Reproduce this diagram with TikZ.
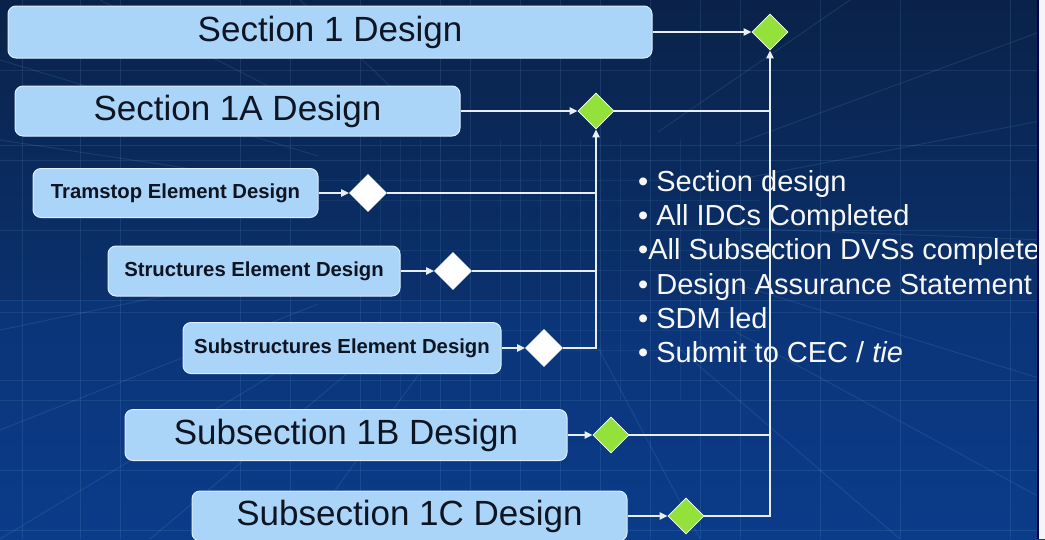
\documentclass[tikz,border=0pt]{standalone}
\usepackage{fontspec}
\setmainfont{Liberation Sans}
\usetikzlibrary{shapes.geometric,arrows.meta,calc}
\definecolor{boxfill}{HTML}{AAD4F8}
\definecolor{boxline}{HTML}{DCEEFF}
\definecolor{boxtext}{HTML}{0E1522}
\definecolor{gdia}{HTML}{93E13B}
\definecolor{conn}{HTML}{E8EEF5}
\definecolor{bgtop}{HTML}{0A2249}
\definecolor{bgmid}{HTML}{071733}
\definecolor{bgbot}{HTML}{0B3C8A}
\definecolor{gridc}{HTML}{7FC8E8}
\tikzset{
  dbox/.style={rectangle, rounded corners=8pt, fill=boxfill, draw=boxline, line width=1pt, inner sep=0pt, text=boxtext},
  bigtxt/.style={font=\fontsize{35}{40}\selectfont},
  smalltxt/.style={font=\bfseries\fontsize{20.3}{23}\selectfont},
  gdiam/.style={diamond, aspect=1, minimum width=36pt, minimum height=36pt, inner sep=0pt, fill=gdia, draw=white, line width=0.8pt},
  wdiam/.style={diamond, aspect=1, minimum width=37pt, minimum height=37pt, inner sep=0pt, fill=white, draw=white, line width=0.8pt},
  link/.style={draw=conn, line width=2pt},
  arr/.style={link, -{Triangle[length=8pt,width=7pt]}},
  bullet/.style={anchor=base west, inner sep=0pt, text=white!94!gray, font=\fontsize{29}{34}\selectfont},
  gridl/.style={draw=gridc, line width=1pt, opacity=0.12}
}
\begin{document}
\begin{tikzpicture}[x=1pt,y=-1pt]
\useasboundingbox (0,0) rectangle (1045,539);
\clip (0,0) rectangle (1045,539);
% background
\shade[top color=bgtop, middle color=bgmid, bottom color=bgbot] (0,0) rectangle (1045,539);
\fill[bgbot, opacity=0.35] (0,300) rectangle (1045,539);
% faint grid
\foreach \gx in {22,80,120,240,290,360,440,470,520,560,600,650,700,740,820,900,1010}
  \draw[gridl] (\gx,0) -- (\gx,539);
\foreach \gy in {70,145,160,230,300,312,380,400,470,530}
  \draw[gridl] (0,\gy) -- (1045,\gy);
\foreach \gx in {380,400,420,500,540,580,620,680}
  \draw[gridl, opacity=0.08] (\gx,140) -- (\gx,400);
\foreach \gy in {180,200,250,270,330,350}
  \draw[gridl, opacity=0.08] (300,\gy) -- (760,\gy);
\foreach \ex/\ey in {0/60,0/140,0/330,0/430,0/539,150/539,300/539,700/539,900/539,1045/500,1045/380,1045/240,1045/120,1045/30,850/0,300/0,100/0}
  \draw[gridl] ($(530,220)!0.4!(\ex,\ey)$) -- (\ex,\ey);
% boxes
\node[dbox, bigtxt, minimum width=644pt, minimum height=52pt] (s1) at (330,32) {Section 1 Design};
\node[dbox, bigtxt, minimum width=445pt, minimum height=50pt] (s1a) at (237.5,111) {Section 1A Design};
\node[dbox, smalltxt, minimum width=285pt, minimum height=49pt] (tram) at (175.5,193) {Tramstop Element Design};
\node[dbox, smalltxt, minimum width=292pt, minimum height=50pt] (struc) at (254,271) {Structures Element Design};
\node[dbox, smalltxt, minimum width=318pt, minimum height=51pt] (sub) at (342,348) {Substructures Element Design};
\node[dbox, bigtxt, minimum width=442pt, minimum height=51pt] (s1b) at (346,435) {Subsection 1B Design};
\node[dbox, bigtxt, minimum width=435pt, minimum height=50pt] (s1c) at (409.5,516) {Subsection 1C Design};
% diamonds
\node[gdiam] (d1) at (770,32) {};
\node[gdiam] (d1a) at (596,111) {};
\node[wdiam] (dt) at (368,193) {};
\node[wdiam] (ds) at (453,271) {};
\node[wdiam] (dss) at (544,348) {};
\node[gdiam] (d1b) at (611,435) {};
\node[gdiam] (d1c) at (686,516) {};
% bullet text
\node[bullet] (b1) at (638,191) {• Section design};
\node[bullet] (b2) at (638,225) {• All IDCs Completed};
\node[bullet] (b3) at (638,259) {•All Subsection DVSs complete};
\node[bullet] (b4) at (638,294) {• Design Assurance Statement};
\node[bullet] (b5) at (638,328) {• SDM led};
\node[bullet] (b6) at (638,362) {• Submit to CEC / \textit{tie}};
% connectors box -> diamond
\draw[arr] (s1.east) -- (d1.west);
\draw[arr] (s1a.east) -- (d1a.west);
\draw[arr] (tram.east) -- (dt.west);
\draw[arr] (struc.east) -- (ds.west);
\draw[arr] (sub.east) -- (dss.west);
\draw[arr] (s1b.east) -- (d1b.west);
\draw[arr] (s1c.east) -- (d1c.west);
% element diamonds -> section 1A diamond
\draw[link] (dt.east) -- (dt.east -| d1a.south);
\draw[link] (ds.east) -- (ds.east -| d1a.south);
\draw[arr] (dss.east) -- (dss.east -| d1a.south) -- (d1a.south);
% subsection diamonds -> section 1 diamond
\draw[link] (d1a.east) -- (d1a.east -| d1.south);
\draw[link] (d1b.east) -- (d1b.east -| d1.south);
\draw[arr] (d1c.east) -- (d1c.east -| d1.south) -- (d1.south);
% right frame edge
\fill[black!70!blue] (1036.5,0) rectangle (1039,539);
\fill[white!92!gray] (1039,0) rectangle (1045,539);
\end{tikzpicture}
\end{document}
